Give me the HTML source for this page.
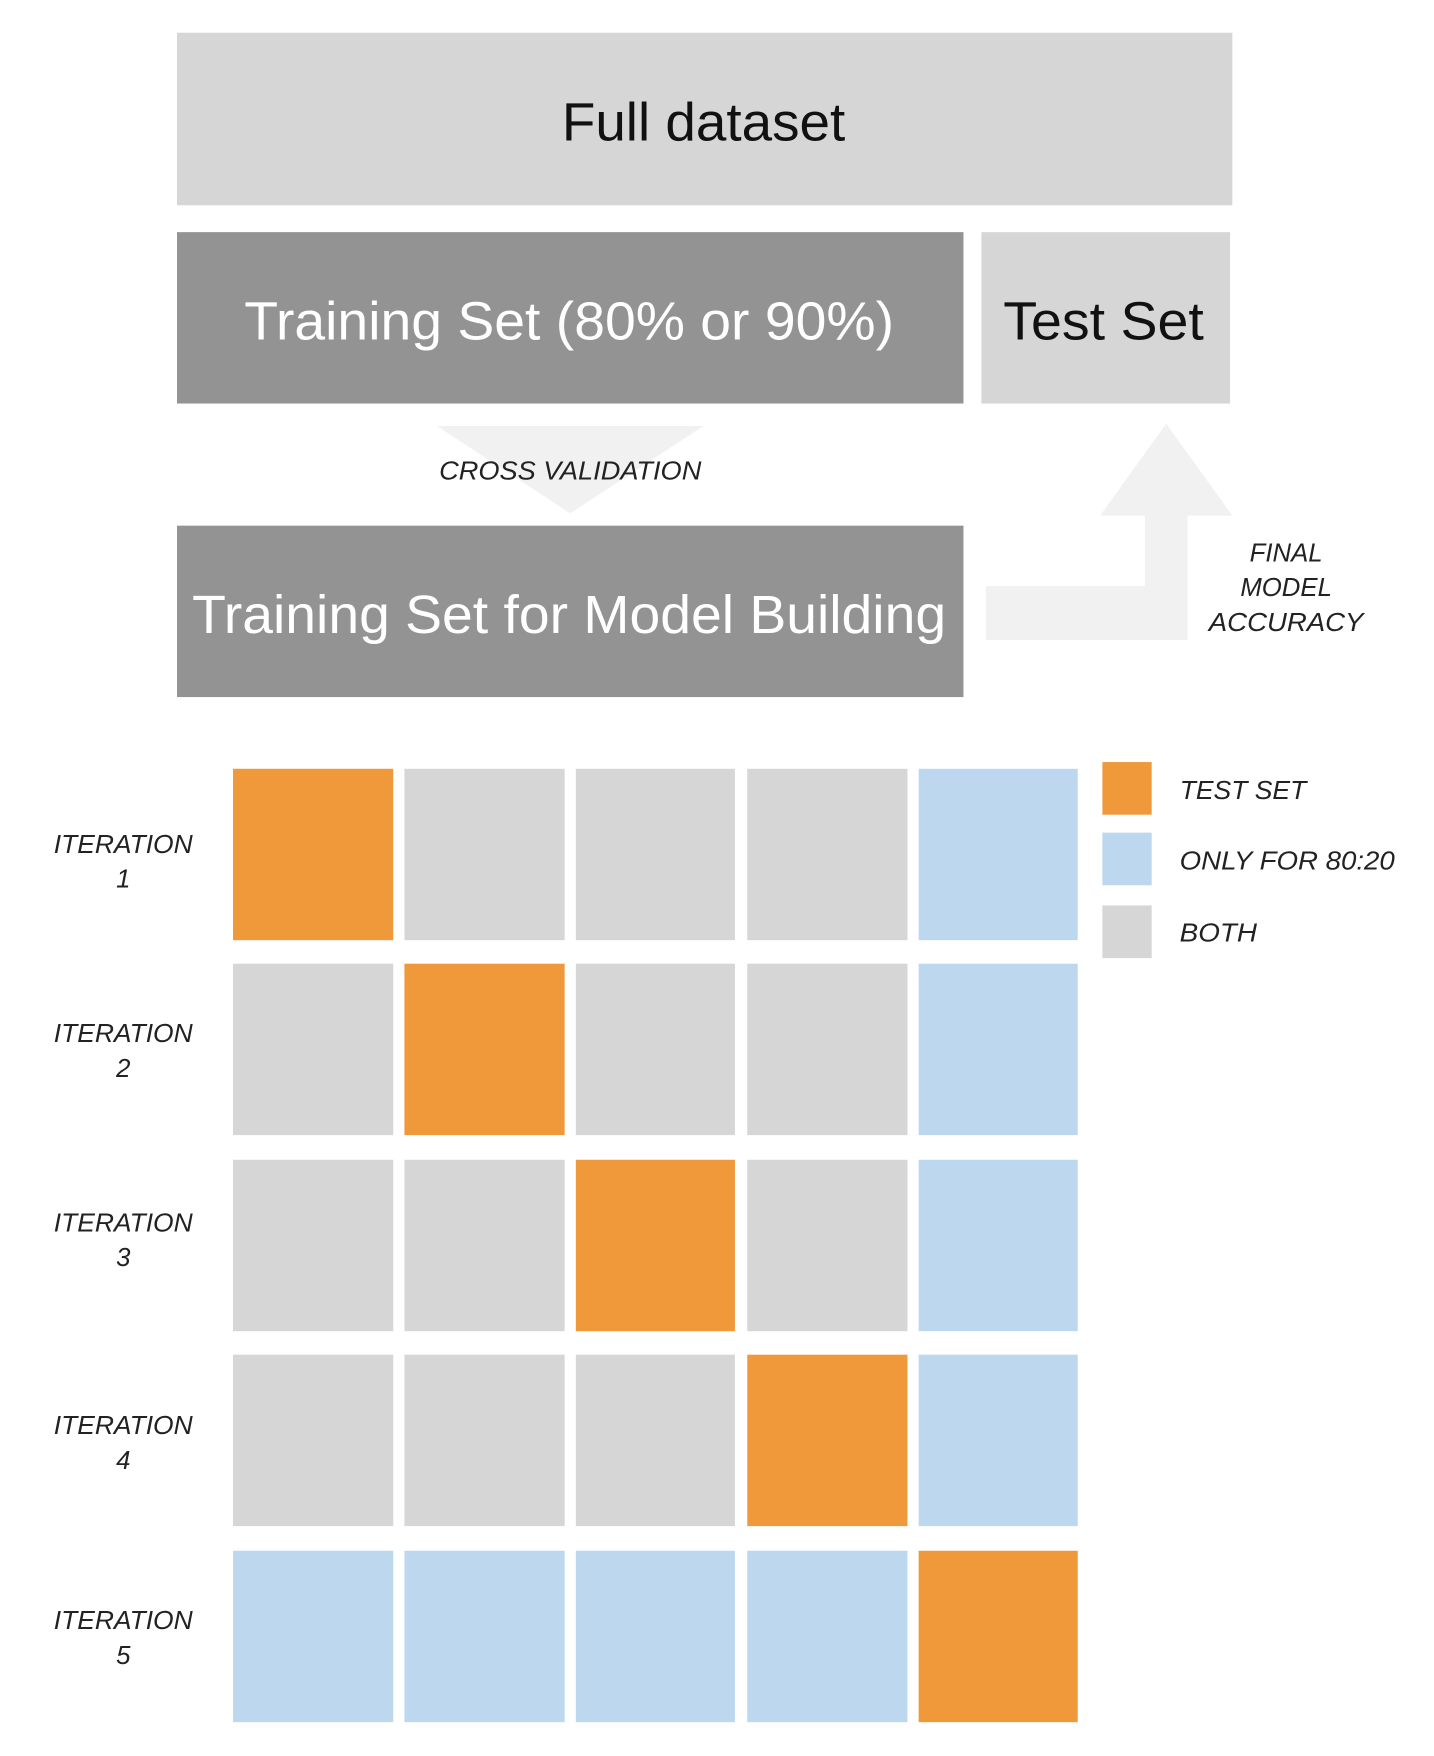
<!DOCTYPE html>
<html><head><meta charset="utf-8"><style>html,body{margin:0;padding:0;background:#fff}svg{display:block}</style></head><body>
<svg width="1434" height="1756" viewBox="0 0 1280 1567" xmlns="http://www.w3.org/2000/svg" font-family="'Liberation Sans', sans-serif">
<rect x="0" y="0" width="1280" height="1567" fill="#fff"/>
<rect x="158" y="29" width="942" height="154" fill="#d6d6d6"/>
<text x="628" y="125" font-size="48" text-anchor="middle" fill="#111" textLength="253" lengthAdjust="spacingAndGlyphs">Full dataset</text>
<rect x="158" y="207" width="702" height="153" fill="#939393"/>
<text x="508" y="303" font-size="48" text-anchor="middle" fill="#fff" textLength="580" lengthAdjust="spacingAndGlyphs">Training Set (80% or 90%)</text>
<rect x="876" y="207" width="222" height="153" fill="#d6d6d6"/>
<text x="985" y="303" font-size="48" text-anchor="middle" fill="#111" textLength="179" lengthAdjust="spacingAndGlyphs">Test Set</text>
<polygon points="390,380 628,380 509,458" fill="#f1f1f2"/>
<text x="509" y="428" font-size="23" font-style="italic" text-anchor="middle" fill="#222" textLength="234" lengthAdjust="spacingAndGlyphs">CROSS VALIDATION</text>
<rect x="158" y="469" width="702" height="153" fill="#939393"/>
<text x="508" y="565" font-size="48" text-anchor="middle" fill="#fff" textLength="673" lengthAdjust="spacingAndGlyphs">Training Set for Model Building</text>
<polygon points="880,523 1022,523 1022,460 982,460 1041,378 1100,460 1060,460 1060,571 880,571" fill="#f1f1f2"/>
<g font-size="23" font-style="italic" text-anchor="middle" fill="#222">
<text x="1148" y="501">FINAL</text><text x="1148" y="532">MODEL</text><text x="1148" y="563" textLength="138" lengthAdjust="spacingAndGlyphs">ACCURACY</text>
</g>
<g>
<rect x="208" y="686" width="143" height="153" fill="#f0993a"/>
<rect x="361" y="686" width="143" height="153" fill="#d6d6d6"/>
<rect x="514" y="686" width="142" height="153" fill="#d6d6d6"/>
<rect x="667" y="686" width="143" height="153" fill="#d6d6d6"/>
<rect x="820" y="686" width="142" height="153" fill="#bcd7ee"/>
<rect x="208" y="860" width="143" height="153" fill="#d6d6d6"/>
<rect x="361" y="860" width="143" height="153" fill="#f0993a"/>
<rect x="514" y="860" width="142" height="153" fill="#d6d6d6"/>
<rect x="667" y="860" width="143" height="153" fill="#d6d6d6"/>
<rect x="820" y="860" width="142" height="153" fill="#bcd7ee"/>
<rect x="208" y="1035" width="143" height="153" fill="#d6d6d6"/>
<rect x="361" y="1035" width="143" height="153" fill="#d6d6d6"/>
<rect x="514" y="1035" width="142" height="153" fill="#f0993a"/>
<rect x="667" y="1035" width="143" height="153" fill="#d6d6d6"/>
<rect x="820" y="1035" width="142" height="153" fill="#bcd7ee"/>
<rect x="208" y="1209" width="143" height="153" fill="#d6d6d6"/>
<rect x="361" y="1209" width="143" height="153" fill="#d6d6d6"/>
<rect x="514" y="1209" width="142" height="153" fill="#d6d6d6"/>
<rect x="667" y="1209" width="143" height="153" fill="#f0993a"/>
<rect x="820" y="1209" width="142" height="153" fill="#bcd7ee"/>
<rect x="208" y="1384" width="143" height="153" fill="#bcd7ee"/>
<rect x="361" y="1384" width="143" height="153" fill="#bcd7ee"/>
<rect x="514" y="1384" width="142" height="153" fill="#bcd7ee"/>
<rect x="667" y="1384" width="143" height="153" fill="#bcd7ee"/>
<rect x="820" y="1384" width="142" height="153" fill="#f0993a"/>
</g>
<g font-size="23" font-style="italic" text-anchor="middle" fill="#222">
<text x="110" y="761" textLength="124" lengthAdjust="spacingAndGlyphs">ITERATION</text><text x="110" y="792">1</text>
<text x="110" y="930" textLength="124" lengthAdjust="spacingAndGlyphs">ITERATION</text><text x="110" y="961">2</text>
<text x="110" y="1099" textLength="124" lengthAdjust="spacingAndGlyphs">ITERATION</text><text x="110" y="1130">3</text>
<text x="110" y="1280" textLength="124" lengthAdjust="spacingAndGlyphs">ITERATION</text><text x="110" y="1311">4</text>
<text x="110" y="1454" textLength="124" lengthAdjust="spacingAndGlyphs">ITERATION</text><text x="110" y="1485">5</text>
</g>
<rect x="984" y="680" width="44" height="47" fill="#f0993a"/>
<rect x="984" y="743" width="44" height="47" fill="#bcd7ee"/>
<rect x="984" y="808" width="44" height="47" fill="#d6d6d6"/>
<g font-size="23" font-style="italic" fill="#222">
<text x="1053" y="713" textLength="113" lengthAdjust="spacingAndGlyphs">TEST SET</text>
<text x="1053" y="776" textLength="192" lengthAdjust="spacingAndGlyphs">ONLY FOR 80:20</text>
<text x="1053" y="840" textLength="69" lengthAdjust="spacingAndGlyphs">BOTH</text>
</g>
</svg>
</body></html>
